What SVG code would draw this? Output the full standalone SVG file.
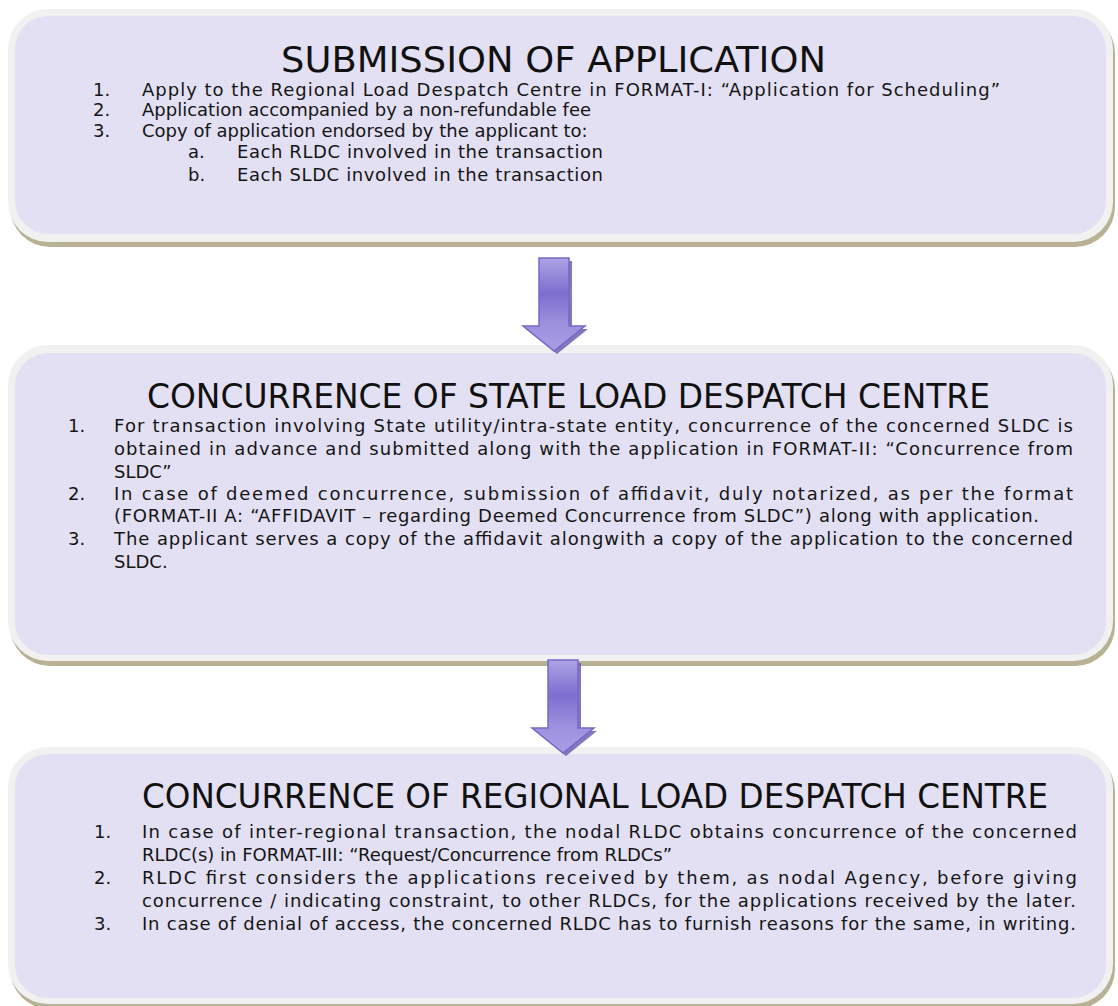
<svg xmlns="http://www.w3.org/2000/svg" xmlns:xlink="http://www.w3.org/1999/xlink" width="1118" height="1006" viewBox="0 0 1118 1006">
<defs>
<style>
.shadow{fill:#b9b193}
.outer{fill:#f1f1f1}
.inner{fill:#e3e0f3}
.title{font-family:"DejaVu Sans Condensed","DejaVu Sans",sans-serif;fill:#111}
.body{font-family:"DejaVu Sans","Noto Sans",sans-serif;font-size:18px;fill:#151515}
.arrow{fill:url(#ag);stroke:#7868c6;stroke-width:1.5;stroke-linejoin:miter}
.ashadow{fill:#6d60b4;opacity:0.85}
</style>
<linearGradient id="ag" x1="0" y1="0" x2="0" y2="1">
<stop offset="0" stop-color="#aca4e4"/>
<stop offset="0.38" stop-color="#7d6dcf"/>
<stop offset="0.7" stop-color="#9c90de"/>
<stop offset="1" stop-color="#a89de4"/>
</linearGradient>
<path id="arrowShape" d="M0,0 H30 V68 H46 L15,93 L-16,68 H0 Z"/>
</defs>

<g id="node-submission">
<rect class="shadow" x="10" y="13" width="1105" height="234" rx="40"/>
<rect class="outer" x="8" y="9" width="1105" height="233" rx="40"/>
<rect class="inner" x="15" y="16" width="1091" height="218" rx="33"/>
<text class="title" x="281" y="72" font-size="36" textLength="545" lengthAdjust="spacingAndGlyphs">SUBMISSION OF APPLICATION</text>
<text class="body" x="93" y="96">1.</text>
<text class="body" x="142" y="96" textLength="858" lengthAdjust="spacing">Apply to the Regional Load Despatch Centre in FORMAT-I: “Application for Scheduling”</text>
<text class="body" x="93" y="116">2.</text>
<text class="body" x="142" y="116">Application accompanied by a non-refundable fee</text>
<text class="body" x="93" y="137">3.</text>
<text class="body" x="142" y="137">Copy of application endorsed by the applicant to:</text>
<text class="body" x="188" y="158">a.</text>
<text class="body" x="237" y="158" textLength="366" lengthAdjust="spacing">Each RLDC involved in the transaction</text>
<text class="body" x="188" y="181">b.</text>
<text class="body" x="237" y="181" textLength="366" lengthAdjust="spacing">Each SLDC involved in the transaction</text>
</g>

<g id="node-sldc">
<rect class="shadow" x="10" y="349" width="1105" height="317" rx="40"/>
<rect class="outer" x="8" y="345" width="1105" height="316" rx="40"/>
<rect class="inner" x="15" y="353" width="1091" height="302" rx="33"/>
<text class="title" x="147" y="408" font-size="33" textLength="843" lengthAdjust="spacingAndGlyphs">CONCURRENCE OF STATE LOAD DESPATCH CENTRE</text>
<text class="body" x="68" y="432">1.</text>
<text class="body" x="114" y="432" textLength="959" lengthAdjust="spacing">For transaction involving State utility/intra-state entity, concurrence of the concerned SLDC is</text>
<text class="body" x="114" y="455" textLength="959" lengthAdjust="spacing">obtained in advance and submitted along with the application in FORMAT-II: “Concurrence from</text>
<text class="body" x="114" y="478">SLDC”</text>
<text class="body" x="68" y="500">2.</text>
<text class="body" x="114" y="500" textLength="959" lengthAdjust="spacing">In case of deemed concurrence, submission of affidavit, duly notarized, as per the format</text>
<text class="body" x="114" y="522" textLength="925" lengthAdjust="spacing">(FORMAT-II A: “AFFIDAVIT – regarding Deemed Concurrence from SLDC”) along with application.</text>
<text class="body" x="68" y="545">3.</text>
<text class="body" x="114" y="545" textLength="959" lengthAdjust="spacing">The applicant serves a copy of the affidavit alongwith a copy of the application to the concerned</text>
<text class="body" x="114" y="568">SLDC.</text>
</g>

<g id="node-rldc">
<rect class="shadow" x="10" y="751" width="1105" height="258" rx="40"/>
<rect class="outer" x="8" y="747" width="1105" height="257" rx="40"/>
<rect class="inner" x="15" y="754" width="1091" height="244" rx="33"/>
<text class="title" x="142" y="808" font-size="34" textLength="906" lengthAdjust="spacingAndGlyphs">CONCURRENCE OF REGIONAL LOAD DESPATCH CENTRE</text>
<text class="body" x="94" y="838">1.</text>
<text class="body" x="142" y="838" textLength="935" lengthAdjust="spacing">In case of inter-regional transaction, the nodal RLDC obtains concurrence of the concerned</text>
<text class="body" x="142" y="861">RLDC(s) in FORMAT-III: “Request/Concurrence from RLDCs”</text>
<text class="body" x="94" y="884">2.</text>
<text class="body" x="142" y="884" textLength="935" lengthAdjust="spacing">RLDC first considers the applications received by them, as nodal Agency, before giving</text>
<text class="body" x="142" y="907" textLength="934" lengthAdjust="spacing">concurrence / indicating constraint, to other RLDCs, for the applications received by the later.</text>
<text class="body" x="94" y="930">3.</text>
<text class="body" x="142" y="930" textLength="934" lengthAdjust="spacing">In case of denial of access, the concerned RLDC has to furnish reasons for the same, in writing.</text>
</g>

<g id="connectors">
<use xlink:href="#arrowShape" href="#arrowShape" class="ashadow" transform="translate(542,261)"/>
<use xlink:href="#arrowShape" href="#arrowShape" class="arrow" transform="translate(539,258)"/>
<use xlink:href="#arrowShape" href="#arrowShape" class="ashadow" transform="translate(551,663)"/>
<use xlink:href="#arrowShape" href="#arrowShape" class="arrow" transform="translate(548,660)"/>
</g>
</svg>
